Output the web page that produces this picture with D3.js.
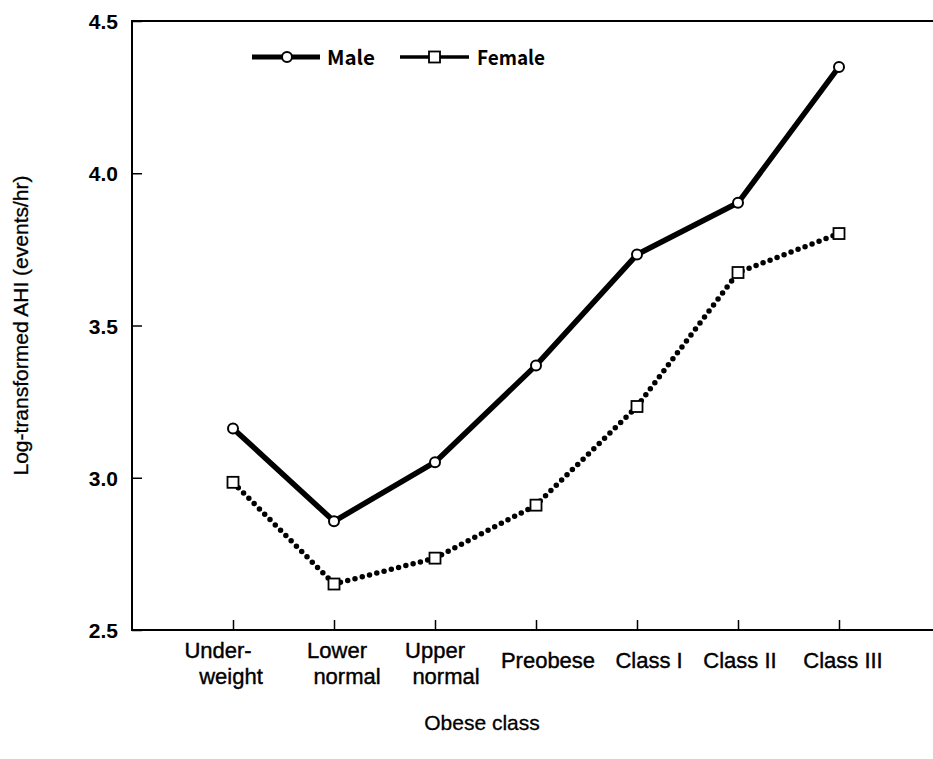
<!DOCTYPE html>
<html>
<head>
<meta charset="utf-8">
<script src="https://cdn.jsdelivr.net/npm/d3@7"></script>
<style>
  body { margin: 0; background: #fff; }
  svg text { font-family: "Liberation Sans", Arial, sans-serif; }
</style>
</head>
<body>
<div id="container"></div>
<script>
// data
const categories = ["Under-|weight", "Lower|normal", "Upper|normal", "Preobese", "Class I", "Class II", "Class III"];
const maleValues = [3.162, 2.857, 3.051, 3.369, 3.733, 3.903, 4.349];
const femaleValues = [2.985, 2.651, 2.736, 2.910, 3.234, 3.674, 3.802];
const yTicks = [2.5, 3.0, 3.5, 4.0, 4.5];

// small horizontal nudges of the category labels (layout only)
const labelNudge = [[-15, -2], [3, 13], [0, 11], [12], [12], [2], [4]];

const width = 933, height = 759;
const margin = { top: 21, right: 0, bottom: 129, left: 132 };

const svg = d3.select("#container").append("svg")
    .attr("width", width)
    .attr("height", height);

let x = d3.scalePoint()
    .domain(categories)
    .range([margin.left, 940])
    .padding(1);

let y = d3.scaleLinear()
    .domain([2.5, 4.5])
    .range([height - margin.bottom, margin.top]);

// top frame line
svg.append("line")
    .attr("x1", margin.left).attr("x2", width)
    .attr("y1", y(4.5)).attr("y2", y(4.5))
    .attr("stroke", "#000").attr("stroke-width", 2);

// x axis, ticks pointing inward
let xAxis = svg.append("g")
    .attr("transform", `translate(0,${y(2.5)})`)
    .call(d3.axisTop(x).tickSize(10).tickFormat(""));
xAxis.select(".domain").remove();
xAxis.selectAll(".tick line").attr("stroke-width", 1.5);
xAxis.append("line")
    .attr("x1", margin.left).attr("x2", width)
    .attr("stroke", "#000").attr("stroke-width", 2);

svg.selectAll(".xlab")
    .data(categories)
    .enter()
    .append("text")
    .attr("class", "xlab")
    .attr("text-anchor", "middle")
    .attr("font-size", 22)
    .attr("fill", "#000")
    .attr("stroke", "#000")
    .attr("stroke-width", 0.4)
    .each(function (d, k) {
        let parts = d.split("|");
        let t = d3.select(this);
        parts.forEach((p, i) => {
            t.append("tspan")
                .attr("x", x(d) + labelNudge[k][i])
                .attr("y", parts.length > 1 ? 658 + i * 26 : 668)
                .text(p);
        });
    });

// y axis, ticks pointing inward
let yAxis = svg.append("g")
    .attr("transform", `translate(${margin.left},0)`)
    .call(d3.axisRight(y).tickValues(yTicks).tickSize(10).tickFormat(""));
yAxis.select(".domain").remove();
yAxis.selectAll(".tick line").attr("stroke-width", 1.5);
yAxis.append("line")
    .attr("y1", y(2.5) + 1).attr("y2", y(4.5) - 1)
    .attr("stroke", "#000").attr("stroke-width", 2);

svg.selectAll(".ylab")
    .data(yTicks)
    .enter()
    .append("text")
    .attr("class", "ylab")
    .attr("x", 118)
    .attr("y", d => y(d) + 8)
    .attr("text-anchor", "end")
    .attr("font-size", 21)
    .attr("font-weight", "bold")
    .attr("fill", "#000")
    .text(d => d.toFixed(1));

// axis titles
svg.append("text")
    .attr("transform", `translate(28,${(y(2.5) + y(4.5)) / 2}) rotate(-90)`)
    .attr("text-anchor", "middle")
    .attr("font-size", 21)
    .attr("stroke", "#000")
    .attr("stroke-width", 0.3)
    .text("Log-transformed AHI (events/hr)");

svg.append("text")
    .attr("x", 482)
    .attr("y", 730)
    .attr("text-anchor", "middle")
    .attr("font-size", 21)
    .attr("stroke", "#000")
    .attr("stroke-width", 0.3)
    .text("Obese class");

// series
const maleData = categories.map((c, i) => ({ x: c, y: maleValues[i] }));
const femaleData = categories.map((c, i) => ({ x: c, y: femaleValues[i] }));

let line = d3.line()
    .x(d => x(d.x))
    .y(d => y(d.y));

svg.append("path")
    .datum(femaleData)
    .attr("fill", "none")
    .attr("stroke", "#000")
    .attr("stroke-width", 5.5)
    .attr("stroke-linecap", "round")
    .attr("stroke-dasharray", "0,7.5")
    .attr("d", line);

svg.append("path")
    .datum(maleData)
    .attr("fill", "none")
    .attr("stroke", "#000")
    .attr("stroke-width", 5.5)
    .attr("stroke-linejoin", "round")
    .attr("d", line);

svg.selectAll(".male-pt")
    .data(maleData)
    .enter()
    .append("circle")
    .attr("class", "male-pt")
    .attr("cx", d => x(d.x))
    .attr("cy", d => y(d.y))
    .attr("r", 5)
    .attr("fill", "#fff")
    .attr("stroke", "#000")
    .attr("stroke-width", 2);

svg.selectAll(".female-pt")
    .data(femaleData)
    .enter()
    .append("rect")
    .attr("class", "female-pt")
    .attr("x", d => x(d.x) - 5.5)
    .attr("y", d => y(d.y) - 5.5)
    .attr("width", 11)
    .attr("height", 11)
    .attr("fill", "#fff")
    .attr("stroke", "#000")
    .attr("stroke-width", 1.8);

// legend
let legend = svg.append("g").attr("transform", "translate(0,57)");
legend.append("line")
    .attr("x1", 252).attr("x2", 320)
    .attr("stroke", "#000").attr("stroke-width", 5);
legend.append("circle")
    .attr("cx", 287).attr("r", 5)
    .attr("fill", "#fff").attr("stroke", "#000").attr("stroke-width", 2);
legend.append("text")
    .attr("x", 327).attr("y", 8)
    .attr("font-size", 20)
    .attr("font-weight", "bold")
    .attr("textLength", 48)
    .attr("lengthAdjust", "spacingAndGlyphs")
    .style("font-family", "'Noto Sans CJK JP', 'DejaVu Sans Condensed', sans-serif")
    .text("Male");
legend.append("line")
    .attr("x1", 400).attr("x2", 469)
    .attr("stroke", "#000").attr("stroke-width", 3.5);
legend.append("rect")
    .attr("x", 429).attr("y", -5.5).attr("width", 11).attr("height", 11)
    .attr("fill", "#fff").attr("stroke", "#000").attr("stroke-width", 1.8);
legend.append("text")
    .attr("x", 477).attr("y", 8)
    .attr("font-size", 20)
    .attr("font-weight", "bold")
    .attr("textLength", 68)
    .attr("lengthAdjust", "spacingAndGlyphs")
    .style("font-family", "'Noto Sans CJK JP', 'DejaVu Sans Condensed', sans-serif")
    .text("Female");
</script>
</body>
</html>
